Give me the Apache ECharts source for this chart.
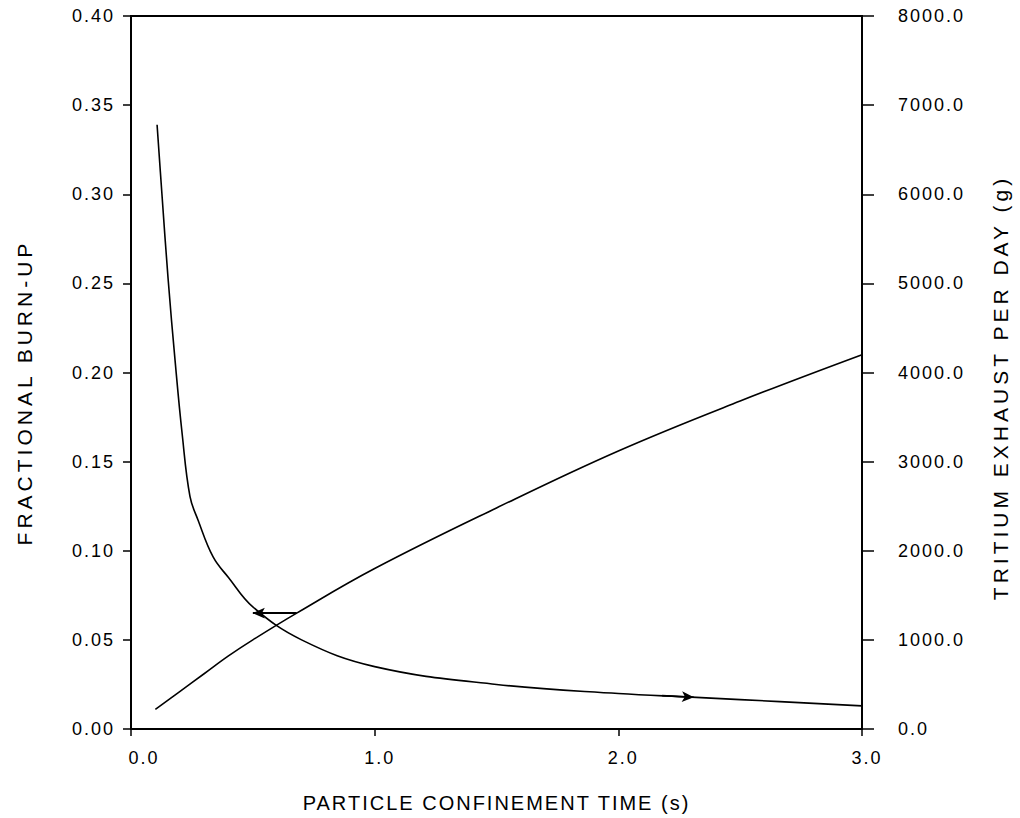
<!DOCTYPE html>
<html>
<head>
<meta charset="utf-8">
<script src="https://cdn.jsdelivr.net/npm/echarts@6.0.0/dist/echarts.min.js"></script>
<style>
  html, body { margin: 0; padding: 0; background: #fff; }
  #chart { width: 1020px; height: 818px; }
  #chart text[style*="18px"] { letter-spacing: 2px; }
  #chart text[style*="20px"] { letter-spacing: 2px; }
  #chart text[style*="21px"] { letter-spacing: 4px; }
</style>
</head>
<body>
<div id="chart"></div>
<script>
// ---- data ----
const burnT = [0.1, 0.2, 0.3, 0.4, 0.5, 0.68, 1.0, 1.5, 2.0, 2.5, 3.0];
const burnUp = [0.011, 0.021, 0.031, 0.041, 0.050, 0.0650, 0.090, 0.124, 0.156, 0.184, 0.210];
const exhT = [0.107, 0.127, 0.152, 0.181, 0.21, 0.242, 0.275, 0.337, 0.4, 0.5, 0.7, 1.0, 1.5, 2.0, 2.3, 2.5, 3.0];
const exhaust = [6780, 6000, 5060, 4130, 3310, 2610, 2345, 1930, 1700, 1370, 1000, 700, 500, 398, 358, 330, 260];
// annotation arrows [t, value]
const leftArrowFrom = [0.68, 0.0650];
const leftArrowTo = [0.50, 0.0650];
const rightArrowFrom = [2.18, 374];
const rightArrowTo = [2.31, 357];

const burnData = burnT.map((t, i) => [t, burnUp[i]]);
const exhData = exhT.map((t, i) => [t, exhaust[i]]);

const FONT = 'Liberation Sans';
const chart = echarts.init(document.getElementById('chart'), null, { renderer: 'svg' });
chart.setOption({
  animation: false,
  backgroundColor: '#fff',
  grid: { left: 131, right: 158, top: 16, bottom: 89, show: true, borderColor: '#000', borderWidth: 2, containLabel: false },
  xAxis: {
    type: 'value', min: 0, max: 3, interval: 1,
    name: 'PARTICLE CONFINEMENT TIME (s)', nameLocation: 'middle', nameGap: 64,
    nameTextStyle: { fontFamily: FONT, fontSize: 20, color: '#000' },
    axisLine: { show: true, onZero: false, lineStyle: { color: '#000', width: 2 } },
    axisTick: { show: true, inside: false, length: 7, lineStyle: { color: '#000', width: 1.5 } },
    axisLabel: {
      fontFamily: FONT, fontSize: 18, color: '#000', margin: 20,
      formatter: v => (v === 0 ? '{a|' : '{b|') + v.toFixed(1) + '}',
      rich: {
        a: { fontFamily: FONT, fontSize: 18, color: '#000', padding: [0, 0, 0, 26] },
        b: { fontFamily: FONT, fontSize: 18, color: '#000', padding: [0, 0, 0, 10] }
      }
    },
    splitLine: { show: false }
  },
  yAxis: [
    {
      type: 'value', position: 'left', min: 0, max: 0.4, interval: 0.05,
      name: 'FRACTIONAL BURN-UP', nameLocation: 'middle', nameGap: 96, nameRotate: 90,
      nameTextStyle: { fontFamily: FONT, fontSize: 21, color: '#000', padding: [0, 40, 0, 0] },
      axisLine: { show: true, lineStyle: { color: '#000', width: 2 } },
      axisTick: { show: true, inside: false, length: 8, lineStyle: { color: '#000', width: 1.5 } },
      axisLabel: { fontFamily: FONT, fontSize: 18, color: '#000', margin: 16, formatter: v => v.toFixed(2) },
      splitLine: { show: false }
    },
    {
      type: 'value', position: 'right', min: 0, max: 8000, interval: 1000,
      name: 'TRITIUM EXHAUST PER DAY (g)', nameLocation: 'middle', nameGap: 128, nameRotate: 90,
      nameTextStyle: { fontFamily: FONT, fontSize: 21, color: '#000', padding: [0, 30, 0, 0] },
      axisLine: { show: true, lineStyle: { color: '#000', width: 2 } },
      axisTick: { show: true, inside: false, length: 12, lineStyle: { color: '#000', width: 1.5 } },
      axisLabel: { fontFamily: FONT, fontSize: 18, color: '#000', margin: 36, formatter: v => v.toFixed(1) },
      splitLine: { show: false }
    }
  ],
  series: [
    {
      name: 'Fractional burn-up', type: 'line', yAxisIndex: 0, data: burnData,
      smooth: 0.4, showSymbol: false,
      lineStyle: { color: '#000', width: 1.6 },
      markLine: {
        silent: true, symbol: ['none', 'arrow'], symbolSize: [8, 12], label: { show: false },
        lineStyle: { color: '#000', width: 2, type: 'solid' },
        data: [[{ coord: leftArrowFrom }, { coord: leftArrowTo }]]
      }
    },
    {
      name: 'Tritium exhaust', type: 'line', yAxisIndex: 1, data: exhData,
      smooth: 0.4, showSymbol: false,
      lineStyle: { color: '#000', width: 1.6 },
      markLine: {
        silent: true, symbol: ['none', 'arrow'], symbolSize: [8, 12], label: { show: false },
        lineStyle: { color: '#000', width: 1.6, type: 'solid' },
        data: [[{ coord: rightArrowFrom }, { coord: rightArrowTo }]]
      }
    }
  ]
});
</script>
</body>
</html>
